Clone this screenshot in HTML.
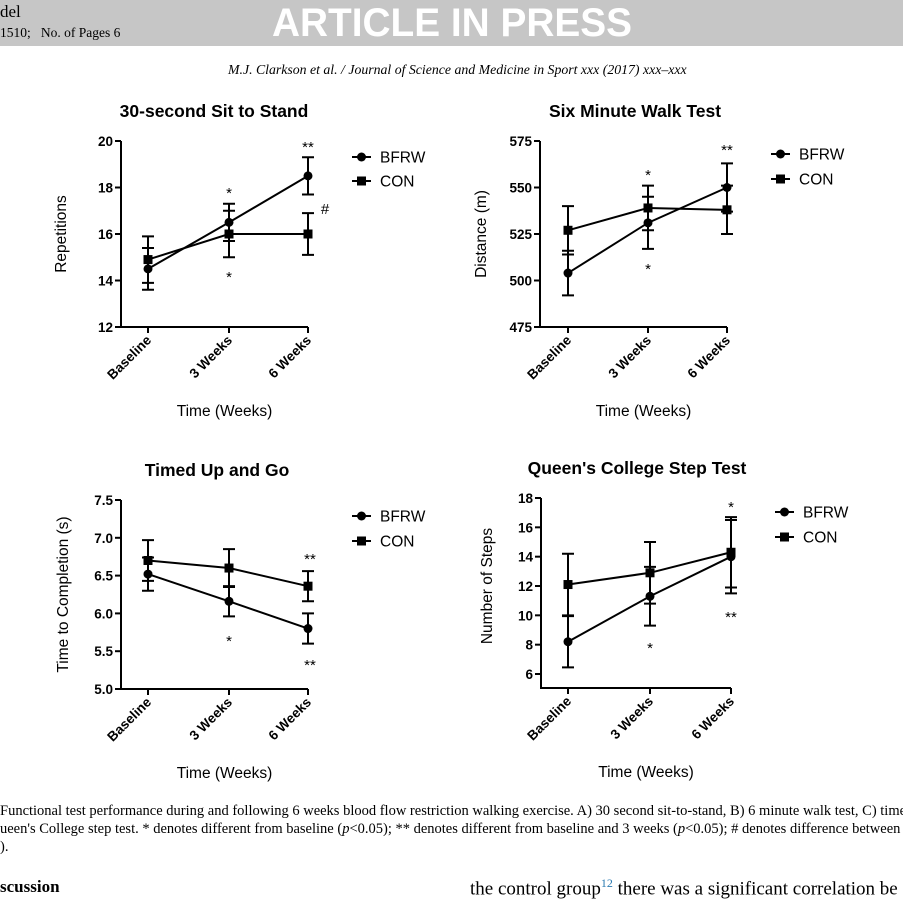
<!DOCTYPE html>
<html><head><meta charset="utf-8"><style>
body{margin:0;background:#fff;width:903px;height:903px;overflow:hidden;position:relative;font-family:"Liberation Sans",sans-serif}
.ban{position:absolute;left:0;top:0;width:903px;height:46px;background:#c6c6c6}
.ser{font-family:"Liberation Serif",serif}
</style></head><body>
<div class="ban"></div>
<div class="ser" style="position:absolute;left:0;top:2px;font-size:17px">del</div>
<div class="ser" style="position:absolute;left:0;top:25px;font-size:13.5px">1510;&nbsp;&nbsp; No. of Pages 6</div>
<div style="position:absolute;left:272px;top:1px;font-size:40px;font-weight:bold;color:#fff;transform:scaleX(0.97);transform-origin:left">ARTICLE IN PRESS</div>
<div class="ser" style="position:absolute;left:228px;top:62px;font-size:13.8px;font-style:italic">M.J. Clarkson et al. / Journal of Science and Medicine in Sport xxx (2017) xxx–xxx</div>
<svg id="s" width="903" height="903" style="position:absolute;left:0;top:0" font-family="Liberation Sans, sans-serif"></svg>
<div class="ser" style="position:absolute;left:0;top:802px;font-size:14.5px;line-height:18px;white-space:nowrap">Functional test performance during and following 6 weeks blood flow restriction walking exercise. A) 30 second sit-to-stand, B) 6 minute walk test, C) timed<br>ueen's College step test. * denotes different from baseline (<i>p</i>&lt;0.05); ** denotes different from baseline and 3 weeks (<i>p</i>&lt;0.05); # denotes difference between<br>).</div>
<div class="ser" style="position:absolute;left:0;top:877px;font-size:17px;font-weight:bold">scussion</div>
<div class="ser" style="position:absolute;left:470px;top:876px;font-size:19px;white-space:nowrap">the control group<sup style="font-size:12px;color:#2a7ab0">12</sup> there was a significant correlation be</div>
<script>
const S=document.getElementById('s');let h='';
function chart(o){
 const {ax,yt,yb,vt,vb,xs,ticks,bot,title,tx,ty,yl,ylx,leg,b,c,be,ce,ann,dec}=o;
 const Y=v=>yt+(vt-v)*(yb-yt)/(vt-vb);
 const by=bot||yb;
 h+=`<text x="${tx}" y="${ty}" font-size="17.5" font-weight="bold" text-anchor="middle">${title}</text>`;
 h+=`<path d="M${ax} ${yt}V${by}H${xs[2]}" stroke="#000" stroke-width="2" fill="none"/>`;
 ticks.forEach(t=>{const y=Y(t);h+=`<path d="M${ax-6} ${y}H${ax}" stroke="#000" stroke-width="2"/><text x="${ax-8}" y="${y+5}" font-size="13.5" font-weight="bold" text-anchor="end">${dec?t.toFixed(1):t}</text>`;});
 const lab=['Baseline','3 Weeks','6 Weeks'];
 xs.forEach((x,i)=>{h+=`<path d="M${x} ${by}V${by+6}" stroke="#000" stroke-width="2"/><text transform="translate(${x+4},${by+14}) rotate(-45)" font-size="13.5" font-weight="bold" text-anchor="end">${lab[i]}</text>`;});
 h+=`<text x="${(ax+xs[2])/2+10}" y="${by+89}" font-size="15.5" text-anchor="middle">Time (Weeks)</text>`;
 h+=`<text transform="translate(${ylx},${(yt+yb)/2}) rotate(-90)" font-size="15.5" text-anchor="middle">${yl}</text>`;
 [[c,ce],[b,be]].forEach(([d,e])=>{d.forEach((v,i)=>{const x=xs[i];h+=`<path d="M${x} ${Y(v+e[i])}V${Y(v-e[i])}M${x-6} ${Y(v+e[i])}h12M${x-6} ${Y(v-e[i])}h12" stroke="#000" stroke-width="2"/>`;});
  h+=`<polyline points="${d.map((v,i)=>xs[i]+','+Y(v)).join(' ')}" fill="none" stroke="#000" stroke-width="2"/>`;});
 b.forEach((v,i)=>h+=`<circle cx="${xs[i]}" cy="${Y(v)}" r="4.5"/>`);
 c.forEach((v,i)=>h+=`<rect x="${xs[i]-4.5}" y="${Y(v)-4.5}" width="9" height="9"/>`);
 const [lx,l1,l2]=leg;
 h+=`<path d="M${lx} ${l1}h19M${lx} ${l2}h19" stroke="#000" stroke-width="2"/><circle cx="${lx+9.5}" cy="${l1}" r="4.5"/><rect x="${lx+5}" y="${l2-4.5}" width="9" height="9"/>`;
 h+=`<text x="${lx+28}" y="${l1+5.5}" font-size="15.5">BFRW</text><text x="${lx+28}" y="${l2+5.5}" font-size="15.5">CON</text>`;
 ann.forEach(a=>h+=`<text x="${a[0]}" y="${a[1]+3}" font-size="15" text-anchor="middle">${a[2]}</text>`);
}
chart({ax:121,yt:141,yb:327,vt:20,vb:12,xs:[148,229,308],ticks:[20,18,16,14,12],title:'30-second Sit to Stand',tx:214,ty:117,yl:'Repetitions',ylx:66,leg:[352,157,181],
 b:[14.5,16.5,18.5],be:[0.9,0.8,0.8],c:[14.9,16,16],ce:[1,1,0.9],ann:[[229,195,'*'],[229,279,'*'],[308,149,'**'],[325,211,'#']]});
chart({ax:540,yt:141,yb:327,vt:575,vb:475,xs:[568,648,727],ticks:[575,550,525,500,475],title:'Six Minute Walk Test',tx:635,ty:117,yl:'Distance (m)',ylx:486,leg:[771,154,179],
 b:[504,531,550],be:[12,14,13],c:[527,539,538],ce:[13,12,13],ann:[[648,177,'*'],[648,271,'*'],[727,152,'**']]});
chart({ax:121,yt:500,yb:689,vt:7.5,vb:5.0,xs:[148,229,308],ticks:[7.5,7.0,6.5,6.0,5.5,5.0],dec:1,title:'Timed Up and Go',tx:217,ty:476,yl:'Time to Completion (s)',ylx:68,leg:[352,516,541],
 b:[6.52,6.16,5.8],be:[0.22,0.2,0.2],c:[6.7,6.6,6.36],ce:[0.27,0.25,0.2],ann:[[229,643,'*'],[310,561,'**'],[310,667,'**']]});
chart({ax:541,yt:498,yb:674,vt:18,vb:6,bot:688,xs:[568,650,731],ticks:[18,16,14,12,10,8,6],title:"Queen's College Step Test",tx:637,ty:474,yl:'Number of Steps',ylx:492,leg:[775,512,537],
 b:[8.2,11.3,14.0],be:[1.75,2,2.5],c:[12.1,12.9,14.3],ce:[2.1,2.1,2.4],ann:[[650,650,'*'],[731,509,'*'],[731,619,'**']]});
S.innerHTML=h;
</script>
</body></html>
